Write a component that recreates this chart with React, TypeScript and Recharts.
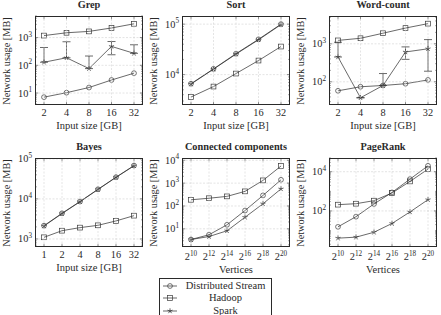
import React from 'react';
import { LineChart, Line, XAxis, YAxis, ErrorBar } from 'recharts';

const SERIF = '"Liberation Serif", "Times New Roman", serif';
const INK = '#2a2a2a';
const MARK = '#3a3a3a';
const GRID = '#c8c8c8';

// x categories
const inputSizes = [2, 4, 8, 16, 32];
const bayesSizes = [1, 2, 4, 8, 16, 32];
const vertexExps = [10, 12, 14, 16, 18, 20]; // vertices = 2^exp

// Grep [MB]
const grepStream = [7.1, 10.3, 15.8, 29.5, 52];
const grepHadoop = [1180, 1490, 1670, 2220, 3140];
const grepSpark = [129, 187, 76, 480, 270];
const grepSparkErr = [310, 520, 140, 240, 280];

// Sort [MB]
const sortStream = [6600, 13000, 26000, 50000, 100000];
const sortHadoop = [3600, 5800, 10500, 19000, 36000];
const sortSpark = [6500, 12800, 25500, 49000, 98000];

// Word-count [MB]
const wcStream = [58, 74, 80, 89, 112];
const wcHadoop = [1230, 1400, 1900, 2600, 3400];
const wcSpark = [450, 38, 80, 610, 740];
const wcSparkErr = [650, 0, 85, 220, 550];

// Bayes [MB]
const bayesStream = [2150, 4370, 8600, 17400, 34800, 68000];
const bayesHadoop = [1100, 1610, 1920, 2190, 2820, 3820];
const bayesSpark = [2100, 4300, 8500, 17200, 34500, 67000];

// Connected components [MB]
const ccStream = [3.4, 5.5, 15, 63, 290, 1400];
const ccHadoop = [187, 218, 263, 436, 1320, 5600];
const ccSpark = [3.4, 4.6, 8.2, 32, 125, 560];

// PageRank [MB]
const prStream = [15.5, 51, 227, 880, 4200, 20000];
const prHadoop = [209, 234, 334, 820, 3200, 13500];
const prSpark = [4.1, 4.6, 8.2, 23, 89, 375];

// layout of the 2x3 grid of plot frames
const COLS = [35, 182, 329];
const ROWS = [16, 158];
const PLOT_W = 108;
const PLOT_H = 89;
const AXIS_W = 34;
const X_H = 16;
const TOP_PAD = 10;

type Row = { x: number; stream: number; hadoop: number; spark: number; sparkErr?: [number, number] };

function buildRows(xs: number[], stream: number[], hadoop: number[], spark: number[], err?: number[]): Row[] {
  return xs.map((x, i) => ({
    x,
    stream: stream[i],
    hadoop: hadoop[i],
    spark: spark[i],
    // symmetric error; the part below zero can't be shown on a log axis
    sparkErr: err ? [err[i] < spark[i] ? err[i] : 0, err[i]] : undefined,
  }));
}

function logTicks(lo: number, hi: number) {
  const out: number[] = [];
  for (let e = Math.floor(Math.log10(lo)); e <= Math.ceil(Math.log10(hi)); e++) {
    for (let m = 1; m < 10; m++) {
      const v = m * 10 ** e;
      if (v >= lo && v <= hi) out.push(v);
    }
  }
  return out;
}

const circleDot = (p: any) => (
  <circle key={`c${p.index}`} cx={p.cx} cy={p.cy} r={2.4} fill="none" stroke={MARK} strokeWidth={0.7} />
);
const squareDot = (p: any) => (
  <rect key={`s${p.index}`} x={p.cx - 2.4} y={p.cy - 2.4} width={4.8} height={4.8} fill="none" stroke={MARK} strokeWidth={0.7} />
);
function starPath(cx: number, cy: number, r: number) {
  let d = '';
  for (let k = 0; k < 5; k++) {
    const a = (-90 + k * 72) * Math.PI / 180;
    d += `M${cx},${cy}L${cx + r * Math.cos(a)},${cy + r * Math.sin(a)}`;
  }
  return d;
}
const starDot = (p: any) => (
  <path key={`t${p.index}`} d={starPath(p.cx, p.cy, 2.7)} fill="none" stroke={MARK} strokeWidth={0.8} />
);

type PanelProps = {
  title: string;
  xLabel: string;
  col: number;
  row: number;
  data: Row[];
  domain: [number, number];
  majors: number[];
  powerX?: boolean;
  withErr?: boolean;
};

function Panel({ title, xLabel, col, row, data, domain, majors, powerX, withErr }: PanelProps) {
  const left = COLS[col];
  const top = ROWS[row];
  const ticks = logTicks(domain[0], domain[1]);

  const yTick = (p: any) => {
    const v = p.payload.value;
    const major = majors.includes(v);
    const len = major ? 3.2 : 1.8;
    const x = p.x;
    const y = p.y;
    return (
      <g>
        {major && <line x1={x} x2={x + PLOT_W} y1={y} y2={y} stroke={GRID} strokeWidth={0.5} strokeDasharray="2 1.5" />}
        <line x1={x} x2={x + len} y1={y} y2={y} stroke={INK} strokeWidth={0.5} />
        <line x1={x + PLOT_W - len} x2={x + PLOT_W} y1={y} y2={y} stroke={INK} strokeWidth={0.5} />
        {major && (
          <text x={x - 3} y={y + 3.5} textAnchor="end" fontSize={10.3} fontFamily={SERIF} fill={INK}>
            10<tspan dy={-4.5} fontSize={7.2}>{Math.round(Math.log10(v))}</tspan>
          </text>
        )}
      </g>
    );
  };

  const xTick = (p: any) => {
    const v = p.payload.value;
    const x = p.x;
    const y = p.y;
    return (
      <g>
        <line x1={x} x2={x} y1={y} y2={y - PLOT_H} stroke={GRID} strokeWidth={0.5} strokeDasharray="2 1.5" />
        <line x1={x} x2={x} y1={y} y2={y - 3.2} stroke={INK} strokeWidth={0.5} />
        <line x1={x} x2={x} y1={y - PLOT_H} y2={y - PLOT_H + 3.2} stroke={INK} strokeWidth={0.5} />
        {powerX ? (
          <text x={x} y={y + 13} textAnchor="middle" fontSize={10.3} fontFamily={SERIF} fill={INK}>
            2<tspan dy={-4.5} fontSize={7.2}>{v}</tspan>
          </text>
        ) : (
          <text x={x} y={y + 11} textAnchor="middle" fontSize={10.3} fontFamily={SERIF} fill={INK}>
            {v}
          </text>
        )}
      </g>
    );
  };

  return (
    <>
      <div
        style={{
          position: 'absolute', left, top: top - 17, width: PLOT_W, textAlign: 'center',
          fontFamily: SERIF, fontWeight: 'bold', fontSize: 10.3, lineHeight: '12px', color: INK,
          whiteSpace: 'nowrap',
        }}
      >
        {title}
      </div>
      <div style={{ position: 'absolute', left: left - AXIS_W, top: top - TOP_PAD }}>
        <LineChart
          width={AXIS_W + PLOT_W + 3}
          height={TOP_PAD + PLOT_H + X_H}
          data={data}
          margin={{ top: TOP_PAD, right: 3, bottom: 0, left: 0 }}
        >
          <XAxis
            dataKey="x"
            type="category"
            padding={{ left: 9, right: 9 }}
            interval={0}
            tickSize={0}
            tickMargin={0}
            axisLine={false}
            tickLine={false}
            tick={xTick}
            height={X_H}
          />
          <YAxis
            type="number"
            scale="log"
            domain={domain}
            allowDataOverflow
            ticks={ticks}
            interval={0}
            tickSize={0}
            tickMargin={0}
            axisLine={false}
            tickLine={false}
            tick={yTick}
            width={AXIS_W}
          />
          <Line dataKey="stream" stroke={INK} strokeWidth={0.7} dot={circleDot} activeDot={false} isAnimationActive={false} />
          <Line dataKey="hadoop" stroke={INK} strokeWidth={0.7} dot={squareDot} activeDot={false} isAnimationActive={false} />
          <Line dataKey="spark" stroke={INK} strokeWidth={0.7} dot={starDot} activeDot={false} isAnimationActive={false}>
            {withErr && <ErrorBar dataKey="sparkErr" direction="y" width={4} stroke={INK} strokeWidth={0.7} />}
          </Line>
        </LineChart>
      </div>
      {/* frame */}
      <div
        style={{
          position: 'absolute', left, top, width: PLOT_W, height: PLOT_H,
          border: `0.8px solid ${INK}`, boxSizing: 'border-box', pointerEvents: 'none',
        }}
      />
      <div
        style={{
          position: 'absolute', left, top: top + PLOT_H + (powerX ? 17 : 15), width: PLOT_W, textAlign: 'center',
          fontFamily: SERIF, fontSize: 10.5, lineHeight: '12px', color: INK,
        }}
      >
        {xLabel}
      </div>
      <div
        style={{
          position: 'absolute', left: left - 29 - PLOT_H / 2, top: top + PLOT_H / 2 - 6, width: PLOT_H,
          textAlign: 'center', transform: 'rotate(-90deg)', fontFamily: SERIF, fontSize: 10.3,
          lineHeight: '12px', color: INK, whiteSpace: 'nowrap',
        }}
      >
        Network usage [MB]
      </div>
    </>
  );
}

function LegendIcon({ kind }: { kind: string }) {
  const cx = 7;
  const cy = 5;
  return (
    <svg width={14} height={10} style={{ display: 'block' }}>
      <line x1={0} x2={14} y1={cy} y2={cy} stroke={INK} strokeWidth={0.7} />
      {kind === 'circle' && <circle cx={cx} cy={cy} r={2.4} fill="none" stroke={MARK} strokeWidth={0.7} />}
      {kind === 'square' && <rect x={cx - 2.4} y={cy - 2.4} width={4.8} height={4.8} fill="none" stroke={MARK} strokeWidth={0.7} />}
      {kind === 'star' && <path d={starPath(cx, cy, 2.7)} stroke={MARK} strokeWidth={0.8} />}
    </svg>
  );
}

const legendItems = [
  { name: 'Distributed Stream', kind: 'circle' },
  { name: 'Hadoop', kind: 'square' },
  { name: 'Spark', kind: 'star' },
];

export default function App() {
  return (
    <div style={{ position: 'absolute', left: 0, top: 0, width: 441, height: 315, background: '#fff', overflow: 'hidden' }}>
      <Panel title="Grep" xLabel="Input size [GB]" col={0} row={0}
        data={buildRows(inputSizes, grepStream, grepHadoop, grepSpark, grepSparkErr)}
        domain={[3.7, 6000]} majors={[10, 100, 1000]} withErr />
      <Panel title="Sort" xLabel="Input size [GB]" col={1} row={0}
        data={buildRows(inputSizes, sortStream, sortHadoop, sortSpark)}
        domain={[2500, 145000]} majors={[10000, 100000]} />
      <Panel title="Word-count" xLabel="Input size [GB]" col={2} row={0}
        data={buildRows(inputSizes, wcStream, wcHadoop, wcSpark, wcSparkErr)}
        domain={[24.5, 5400]} majors={[100, 1000]} withErr />
      <Panel title="Bayes" xLabel="Input size [GB]" col={0} row={1}
        data={buildRows(bayesSizes, bayesStream, bayesHadoop, bayesSpark)}
        domain={[630, 105000]} majors={[1000, 10000, 100000]} />
      <Panel title="Connected components" xLabel="Vertices" col={1} row={1}
        data={buildRows(vertexExps, ccStream, ccHadoop, ccSpark)}
        domain={[1.6, 12600]} majors={[10, 100, 1000, 10000]} powerX />
      <Panel title="PageRank" xLabel="Vertices" col={2} row={1}
        data={buildRows(vertexExps, prStream, prHadoop, prSpark)}
        domain={[1.45, 50000]} majors={[100, 10000]} powerX />

      <div
        style={{
          position: 'absolute', left: 159, top: 278, width: 113, height: 40, border: `0.8px solid ${INK}`,
          boxSizing: 'border-box', fontFamily: SERIF, fontSize: 10.5, color: INK, paddingTop: 1,
        }}
      >
        {legendItems.map((it) => (
          <div key={it.name} style={{ display: 'flex', alignItems: 'center', height: 12.3 }}>
            <div style={{ width: 20, display: 'flex', justifyContent: 'center' }}>
              <LegendIcon kind={it.kind} />
            </div>
            <div style={{ flex: 1, textAlign: 'center', lineHeight: '12px' }}>{it.name}</div>
          </div>
        ))}
      </div>
    </div>
  );
}
